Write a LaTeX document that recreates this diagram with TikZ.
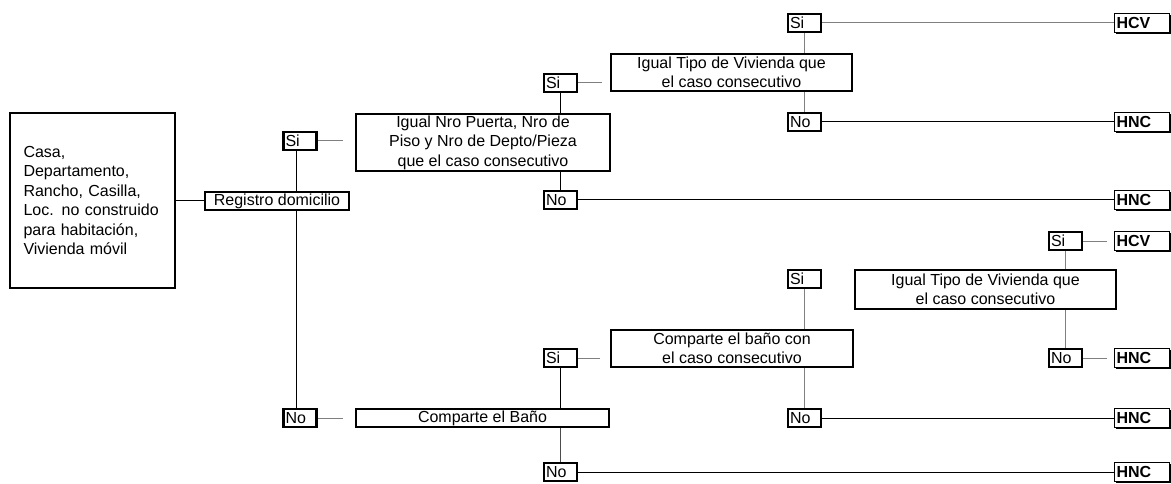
\documentclass[tikz,border=0pt]{standalone}
\usepackage{fontspec}
\setmainfont{Liberation Sans}
\usetikzlibrary{shadows}
\begin{document}
\begin{tikzpicture}[x=1pt,y=-1pt,
  every node/.style={font=\fontsize{16}{19.5}\selectfont},
  bigbox/.style={draw, line width=2.8pt, fill=white, align=center, inner sep=0pt},
  lab/.style={draw, line width=2.8pt, fill=white, minimum height=18pt, minimum width=33pt, text width=29pt, inner xsep=2pt, inner ysep=0pt, align=left},
  res/.style={draw, line width=1pt, fill=white, minimum height=19pt, minimum width=55pt, text width=51pt, inner xsep=2pt, inner ysep=0pt, align=left, font=\fontsize{16}{19.5}\selectfont\bfseries, drop shadow={shadow xshift=1.8pt, shadow yshift=-1.8pt, opacity=1, fill=black}},
  bl/.style={draw=black, line width=1pt},
  gl/.style={draw=black!50, line width=1pt}]
\useasboundingbox (0,0) rectangle (1171,484);

% nodes
\node[bigbox, minimum width=165pt, minimum height=175pt, text width=138pt, inner xsep=13.5pt, align=left] (L) at (92.5,200.5)
  {Casa,\\Departamento,\\Rancho, Casilla,\\Loc. no construido\\para habitación,\\Vivienda móvil};
\node[bigbox, minimum width=144pt, minimum height=18pt] (R) at (277,201) {Registro domicilio};
\node[lab] (S1) at (300,141) {Si};
\node[lab] (N1) at (300,418) {No};
\node[bigbox, minimum width=254pt, minimum height=57pt] (B1) at (483,142.5)
  {Igual Nro Puerta, Nro de\\Piso y Nro de Depto/Pieza\\que el caso consecutivo};
\node[lab] (S2) at (560.5,83) {Si};
\node[lab] (N2) at (560.5,200) {No};
\node[bigbox, minimum width=241pt, minimum height=37pt] (T1) at (731.5,72.5)
  {Igual Tipo de Vivienda que\\el caso consecutivo};
\node[lab] (S3) at (804.5,23) {Si};
\node[lab] (N3) at (804.5,122) {No};
\node[res] (H1) at (1142,23) {HCV};
\node[res] (H2) at (1142,122) {HNC};
\node[res] (H3) at (1142,200) {HNC};
\node[lab] (S6) at (1065.5,241) {Si};
\node[res] (H4) at (1142,241) {HCV};
\node[bigbox, minimum width=261pt, minimum height=39pt] (T2) at (985.5,289.5)
  {Igual Tipo de Vivienda que\\el caso consecutivo};
\node[lab] (S5) at (804.5,279) {Si};
\node[bigbox, minimum width=242pt, minimum height=37pt] (C1) at (732,348.5)
  {Comparte el baño con\\el caso consecutivo};
\node[lab] (S4) at (560.5,358) {Si};
\node[lab] (N6) at (1065.5,358) {No};
\node[res] (H6) at (1142,358) {HNC};
\node[bigbox, minimum width=253pt, minimum height=18pt] (B2) at (482.5,418) {Comparte el Baño};
\node[lab] (N5) at (804.5,418) {No};
\node[res] (H5) at (1142,418) {HNC};
\node[lab] (N4) at (560.5,472) {No};
\node[res] (H7) at (1142,472) {HNC};

% connectors
\draw[bl] (L.east |- R.west) -- (R.west);
\draw[bl] ([xshift=-4pt]S1.south) -- ([xshift=-4pt]S1.south |- R.north);
\draw[bl] ([xshift=-4pt]S1.south |- R.south) -- ([xshift=-4pt]N1.north);
\draw[gl, shorten >=12pt] (S1.east) -- (S1.east -| B1.west);
\draw[gl, shorten >=12pt] (N1.east) -- (N1.east -| B2.west);
\draw[bl] (S2.south) -- (S2.south |- B1.north);
\draw[bl] (B1.south -| N2.north) -- (N2.north);
\draw[gl, shorten >=8pt] (S2.east) -- (S2.east -| T1.west);
\draw[bl] (N2.east) -- (H3.west);
\draw[gl] (S3.south) -- (S3.south |- T1.north);
\draw[gl] (T1.south -| N3.north) -- (N3.north);
\draw[gl] (S3.east) -- (H1.west);
\draw[bl] (N3.east) -- (H2.west);
\draw[gl] (S6.south) -- (S6.south |- T2.north);
\draw[gl] (T2.south -| N6.north) -- (N6.north);
\draw[gl, shorten >=7pt] (S6.east) -- (H4.west);
\draw[gl, shorten >=7pt] (N6.east) -- (H6.west);
\draw[gl] (S5.south) -- (S5.south |- C1.north);
\draw[gl] (C1.south -| N5.north) -- (N5.north);
\draw[bl] (N5.east) -- (H5.west);
\draw[gl, shorten >=10pt] (S4.east) -- (S4.east -| C1.west);
\draw[bl] (S4.south) -- (S4.south |- B2.north);
\draw[black!70, line width=1pt] (B2.south -| N4.north) -- (N4.north);
\draw[bl] (N4.east) -- (H7.west);
\end{tikzpicture}
\end{document}
